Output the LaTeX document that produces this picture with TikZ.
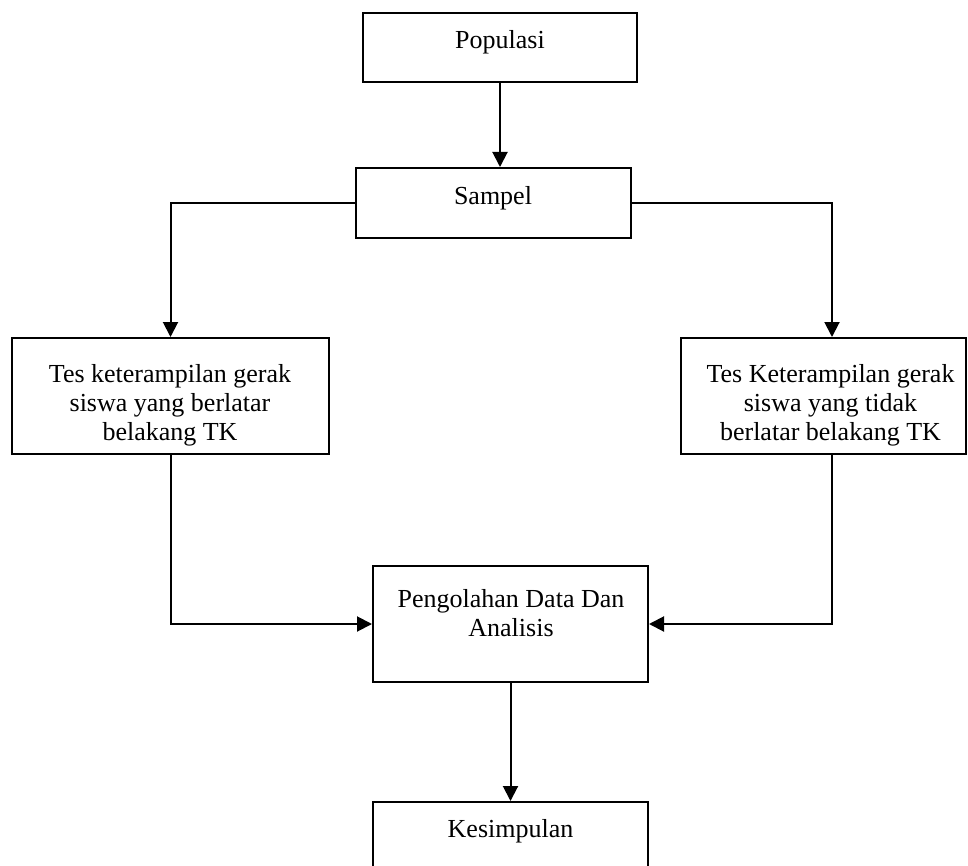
\documentclass[tikz,border=0pt]{standalone}
\usepackage{fontspec}
\setmainfont{Liberation Serif}
\usetikzlibrary{arrows.meta}
\begin{document}
\begin{tikzpicture}[x=1pt,y=-1pt,
  box/.style={draw, line width=2pt, inner sep=0pt, rectangle},
  txt/.style={font=\fontsize{26}{29}\selectfont, inner sep=0pt, align=center},
  arr/.style={line width=2pt, -{Triangle[length=15pt,width=15pt]}},
  link/.style={line width=2pt}]
\useasboundingbox (0,0) rectangle (968,866);
\clip (0,0) rectangle (968,866);
% boxes
\node[box, minimum width=274pt, minimum height=69pt] (pop) at (500,47.5) {};
\node[box, minimum width=275pt, minimum height=70pt] (samp) at (493.5,203) {};
\node[box, minimum width=317pt, minimum height=116pt] (lb) at (170.5,396) {};
\node[box, minimum width=285pt, minimum height=116pt] (rb) at (823.5,396) {};
\node[box, minimum width=275pt, minimum height=116pt] (pg) at (510.5,624) {};
\node[box, minimum width=275pt, minimum height=116pt] (ks) at (510.5,860) {};
% texts
\node[txt, anchor=base] (popt) at (500,49) {Populasi};
\node[txt, anchor=base] (sampt) at (493,205) {Sampel};
\node[txt, anchor=north] (lbt) at (170,364.5) {Tes keterampilan gerak\\siswa yang berlatar\\belakang TK};
\node[txt, anchor=north] (rbt) at (830.5,364.5) {Tes Keterampilan gerak\\siswa yang tidak\\berlatar belakang TK};
\node[txt, anchor=north] (pgt) at (511,589.5) {Pengolahan Data Dan\\Analisis};
\node[txt, anchor=base] (kst) at (510.5,837) {Kesimpulan};
% connectors
\draw[arr] (pop.south) -- (pop.south |- samp.north);
\draw[arr] (samp.west) -| (lb.north);
\draw[arr] (samp.east) -| ([xshift=8.5pt]rb.north);
\draw[arr] (lb.south) |- (pg.west);
\draw[arr] ([xshift=8.5pt]rb.south) |- (pg.east);
\draw[arr] (pg.south) -- (ks.north);
\end{tikzpicture}
\end{document}
